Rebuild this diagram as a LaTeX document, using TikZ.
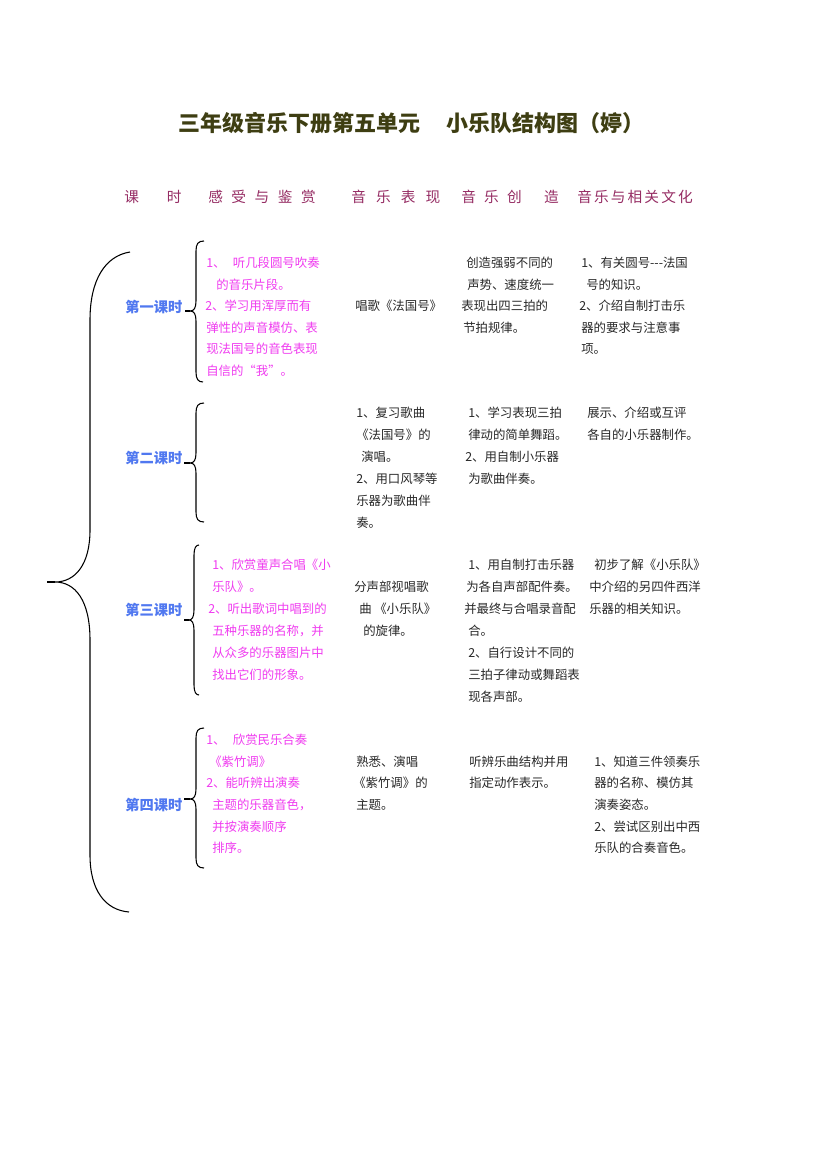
\documentclass[tikz,border=0pt]{standalone}
\usepackage{fontspec}
\setmainfont{Noto Sans CJK SC}
\definecolor{titlecol}{RGB}{62,62,18}
\definecolor{headcol}{RGB}{150,45,100}
\definecolor{labcol}{RGB}{80,120,240}
\definecolor{pinkcol}{RGB}{240,60,240}
\definecolor{bodycol}{RGB}{40,40,40}
\tikzset{
  txt/.style={anchor=base west, inner sep=0pt, yshift=-3.5pt, font=\fontsize{9.3}{11}\selectfont, text=bodycol},
  pk/.style={txt, text=pinkcol},
  lab/.style={anchor=base west, inner sep=0pt, yshift=-4pt, font=\fontsize{10.7}{12}\selectfont\bfseries, text=labcol},
  ttl/.style={anchor=base west, inner sep=0pt, yshift=-6.3pt, font=\fontsize{16.5}{18}\selectfont\bfseries, text=titlecol},
  hdr/.style={anchor=base west, inner sep=0pt, yshift=-4.2pt, font=\fontsize{11}{12}\selectfont, text=headcol},
  brace/.style={draw=black, line width=0.8pt},
  stub/.style={draw=black, line width=1.6pt}
}
\begin{document}
\begin{tikzpicture}[x=0.75pt,y=-0.75pt]
\useasboundingbox (0,0) rectangle (826,1169);
\fill[white] (0,0) rectangle (826,1169);
% title
\node[ttl] (t1) at (178,123) {三年级音乐下册第五单元};
\node[ttl] (t2) at (446,123) {小乐队结构图（婷）};
% header
\node[hdr] (h1) at (124,197) {课\hspace{21pt}时};
\node[hdr] (h2) at (208,197) {感\hspace{6.4pt}受\hspace{6.4pt}与\hspace{6.4pt}鉴\hspace{6.4pt}赏};
\node[hdr] (h3) at (351,197) {音\hspace{7.6pt}乐\hspace{7.6pt}表\hspace{7.6pt}现};
\node[hdr] (h4) at (461,197) {音\hspace{6.2pt}乐\hspace{6.2pt}创\hspace{16.7pt}造};
\node[hdr] (h5) at (577,197) {音\hspace{1.6pt}乐\hspace{1.6pt}与\hspace{1.6pt}相\hspace{1.6pt}关\hspace{1.6pt}文\hspace{1.6pt}化};
% big brace
\path[brace] (130,252) .. controls (105,256) and (90,280) .. (90,320) -- (90,530)
  .. controls (90,565) and (75,582) .. (55,582)
  .. controls (75,582) and (90,600) .. (90,640) -- (90,855)
  .. controls (90,890) and (105,910) .. (129,912);
\path[stub] (55,582) -- (47,582);
% small braces
\path[brace] (204,241) .. controls (198,241) and (196,244) .. (196,251) -- (196,301)
  .. controls (196,308) and (194,311) .. (190,311)
  .. controls (194,311) and (196,314) .. (196,321) -- (196,372)
  .. controls (196,379) and (198,382) .. (203,382);
\path[stub] (190,311) -- (185,311);
\path[brace] (204,403) .. controls (198,403) and (196,406) .. (196,413) -- (196,453)
  .. controls (196,460) and (194,463) .. (190,463)
  .. controls (194,463) and (196,466) .. (196,473) -- (196,512)
  .. controls (196,519) and (198,522) .. (204,522);
\path[stub] (190,463) -- (184,463);
\path[brace] (199,545) .. controls (196,545) and (194,548) .. (194,555) -- (194,610)
  .. controls (194,617) and (192,620) .. (189,620)
  .. controls (192,620) and (194,623) .. (194,630) -- (194,685)
  .. controls (194,692) and (196,695) .. (199,695);
\path[stub] (189,620) -- (184,620);
\path[brace] (204,728) .. controls (198,728) and (196,731) .. (196,738) -- (196,789)
  .. controls (196,796) and (194,799) .. (190,799)
  .. controls (194,799) and (196,802) .. (196,809) -- (196,858)
  .. controls (196,865) and (198,868) .. (204,868);
\path[stub] (190,799) -- (184,799);
% lesson labels
\node[lab] (l1) at (125,307) {第一课时};
\node[lab] (l2) at (125,458) {第二课时};
\node[lab] (l3) at (125,610) {第三课时};
\node[lab] (l4) at (125,805) {第四课时};
% lesson 1
\node[pk] (p1a) at (206,263) {1、\hspace{5.5pt}听几段圆号吹奏};
\node[pk] (p1b) at (216,284.5) {的音乐片段。};
\node[pk] (p1c) at (205,306) {2、学习用浑厚而有};
\node[pk] (p1d) at (206,327.5) {弹性的声音模仿、表};
\node[pk] (p1e) at (206,349) {现法国号的音色表现};
\node[pk] (p1f) at (206,370.5) {自信的“我”。};
\node[txt] (b1a) at (355,306) {唱歌《法国号》};
\node[txt] (c1a) at (466,263) {创造强弱不同的};
\node[txt] (c1b) at (467,284.5) {声势、速度统一};
\node[txt] (c1c) at (461,306) {表现出四三拍的};
\node[txt] (c1d) at (463,327.5) {节拍规律。};
\node[txt] (d1a) at (581,263) {1、有关圆号-{}-{}-法国};
\node[txt] (d1b) at (586,284.5) {号的知识。};
\node[txt] (d1c) at (579,306) {2、介绍自制打击乐};
\node[txt] (d1d) at (581,327.5) {器的要求与注意事};
\node[txt] (d1e) at (581,349) {项。};
% lesson 2
\node[txt] (b2a) at (356,413) {1、复习歌曲};
\node[txt] (b2b) at (356,435) {《法国号》的};
\node[txt] (b2c) at (361,457) {演唱。};
\node[txt] (b2d) at (356,479) {2、用口风琴等};
\node[txt] (b2e) at (356,501) {乐器为歌曲伴};
\node[txt] (b2f) at (356,523) {奏。};
\node[txt] (c2a) at (468,413) {1、学习表现三拍};
\node[txt] (c2b) at (468,435) {律动的简单舞蹈。};
\node[txt] (c2c) at (465,457) {2、用自制小乐器};
\node[txt] (c2d) at (468,479) {为歌曲伴奏。};
\node[txt] (d2a) at (587,413) {展示、介绍或互评};
\node[txt] (d2b) at (587,435) {各自的小乐器制作。};
% lesson 3
\node[pk] (p3a) at (212,565) {1、欣赏童声合唱《小};
\node[pk] (p3b) at (212,587) {乐队》。};
\node[pk] (p3c) at (208,609) {2、听出歌词中唱到的};
\node[pk] (p3d) at (212,631) {五种乐器的名称，并};
\node[pk] (p3e) at (212,653) {从众多的乐器图片中};
\node[pk] (p3f) at (212,675) {找出它们的形象。};
\node[txt] (b3a) at (354,587) {分声部视唱歌};
\node[txt] (b3b) at (359,609) {曲\hspace{2pt}《小乐队》};
\node[txt] (b3c) at (363,631) {的旋律。};
\node[txt] (c3a) at (468,565) {1、用自制打击乐器};
\node[txt] (c3b) at (466,587) {为各自声部配件奏。};
\node[txt] (c3c) at (464,609) {并最终与合唱录音配};
\node[txt] (c3d) at (468,631) {合。};
\node[txt] (c3e) at (468,653) {2、自行设计不同的};
\node[txt] (c3f) at (468,675) {三拍子律动或舞蹈表};
\node[txt] (c3g) at (468,697) {现各声部。};
\node[txt] (d3a) at (594,565) {初步了解《小乐队》};
\node[txt] (d3b) at (589,587) {中介绍的另四件西洋};
\node[txt] (d3c) at (589,609) {乐器的相关知识。};
% lesson 4
\node[pk] (p4a) at (206,740) {1、\hspace{5.5pt}欣赏民乐合奏};
\node[pk] (p4b) at (209,762) {《紫竹调》};
\node[pk] (p4c) at (206,783) {2、能听辨出演奏};
\node[pk] (p4d) at (212,805) {主题的乐器音色，};
\node[pk] (p4e) at (212,827) {并按演奏顺序};
\node[pk] (p4f) at (212,848) {排序。};
\node[txt] (b4a) at (356,762) {熟悉、演唱};
\node[txt] (b4b) at (353,783) {《紫竹调》的};
\node[txt] (b4c) at (356,805) {主题。};
\node[txt] (c4a) at (469,762) {听辨乐曲结构并用};
\node[txt] (c4b) at (469,783) {指定动作表示。};
\node[txt] (d4a) at (594,762) {1、知道三件领奏乐};
\node[txt] (d4b) at (594,783) {器的名称、模仿其};
\node[txt] (d4c) at (594,805) {演奏姿态。};
\node[txt] (d4d) at (594,827) {2、尝试区别出中西};
\node[txt] (d4e) at (594,848) {乐队的合奏音色。};
\end{tikzpicture}
\end{document}
